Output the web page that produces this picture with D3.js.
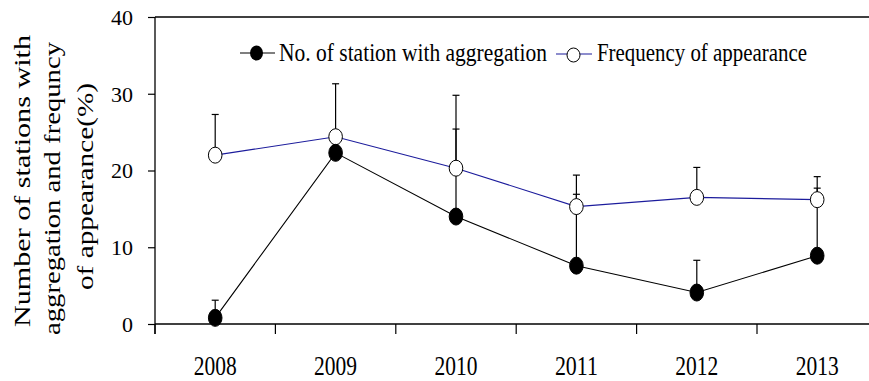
<!DOCTYPE html>
<html>
<head>
<meta charset="utf-8">
<script src="https://cdn.jsdelivr.net/npm/d3@7"></script>
<style>
  html, body { margin: 0; padding: 0; background: #fff; }
  svg { display: block; }
</style>
</head>
<body>
<svg id="chart" width="869" height="381"></svg>
<script>
// ---- data ----
const years = ["2008", "2009", "2010", "2011", "2012", "2013"];
const stations = [0.8, 22.3, 14.0, 7.6, 4.1, 8.9];
const stationsErrTop = [3.1, null, 25.4, 16.9, 8.3, 17.7];
const frequency = [22.0, 24.4, 20.3, 15.3, 16.5, 16.2];
const frequencyErrTop = [27.3, 31.3, 29.8, 19.4, 20.4, 19.2];
const yTicks = [0, 10, 20, 30, 40];
const legendLabels = ["No. of station with aggregation", "Frequency of appearance"];
const yTitle = ["Number of stations with", "aggregation and frequncy", "of appearance(%)"];

// ---- layout ----
const FONT = "'Liberation Serif', Tinos, 'Times New Roman', 'DejaVu Serif', serif";
const svg = d3.select("#chart");
const plotLeft = 155, plotTop = 17, plotBottom = 324, band = 120.4;
const x = d3.scaleBand().domain(years).range([plotLeft, plotLeft + band * years.length]).paddingInner(0).paddingOuter(0);
const y = d3.scaleLinear().domain([0, 40]).range([plotBottom, plotTop]);
const cx = d => x(d) + x.bandwidth() / 2;
const blue = "#1c1c9c";

// frame: top line and bottom axis line
svg.append("line").attr("x1", plotLeft).attr("x2", 869).attr("y1", y(40)).attr("y2", y(40))
  .attr("stroke", "#000").attr("stroke-width", 1.3);
svg.append("line").attr("x1", plotLeft).attr("x2", 869).attr("y1", y(0)).attr("y2", y(0))
  .attr("stroke", "#000").attr("stroke-width", 1.3);

// y axis
const yAxis = d3.axisLeft(y).tickValues(yTicks).tickSize(7).tickPadding(15).tickFormat(d3.format("d"));
const gy = svg.append("g").attr("transform", `translate(${plotLeft},0)`).call(yAxis);
gy.attr("font-family", null).attr("font-size", null);
gy.select(".domain").remove();
gy.append("line").attr("x1", 0).attr("x2", 0).attr("y1", y(40)).attr("y2", y(0) + 10)
  .attr("stroke", "#000").attr("stroke-width", 1.3);
gy.selectAll(".tick line").attr("stroke", "#000").attr("stroke-width", 1.2);
gy.selectAll(".tick text").style("font-family", FONT).style("font-size", "22px").attr("fill", "#000")
  .attr("dy", "0.34em");

// x axis: labels at centers, ticks at band boundaries
const gx = svg.append("g").attr("transform", `translate(0,${plotBottom})`);
const bounds = years.map(d => x(d)).concat([x.range()[1]]);
gx.selectAll("line.tk").data(bounds).join("line").attr("class", "tk")
  .attr("x1", d => d).attr("x2", d => d).attr("y1", 0).attr("y2", 10)
  .attr("stroke", "#000").attr("stroke-width", 1.2);
gx.selectAll("text").data(years).join("text")
  .attr("x", d => cx(d)).attr("y", 51).attr("text-anchor", "middle")
  .style("font-family", FONT).style("font-size", "27px")
  .attr("textLength", 43).attr("lengthAdjust", "spacingAndGlyphs")
  .text(d => d);

// error bars
function errorBars(vals, tops) {
  const data = years.map((d, i) => ({ year: d, v: vals[i], t: tops[i] })).filter(d => d.t != null);
  const g = svg.append("g");
  g.selectAll("line.v").data(data).join("line").attr("class", "v")
    .attr("x1", d => cx(d.year)).attr("x2", d => cx(d.year))
    .attr("y1", d => y(d.v)).attr("y2", d => y(d.t)).attr("stroke", "#000").attr("stroke-width", 1.2);
  g.selectAll("line.c").data(data).join("line").attr("class", "c")
    .attr("x1", d => cx(d.year) - 3.5).attr("x2", d => cx(d.year) + 3.5)
    .attr("y1", d => y(d.t)).attr("y2", d => y(d.t)).attr("stroke", "#000").attr("stroke-width", 1.2);
}
errorBars(stations, stationsErrTop);
errorBars(frequency, frequencyErrTop);

// lines
const line = d3.line().x((d, i) => cx(years[i])).y(d => y(d));
svg.append("path").datum(stations).attr("d", line).attr("fill", "none").attr("stroke", "#000").attr("stroke-width", 1.1);
svg.append("path").datum(frequency).attr("d", line).attr("fill", "none").attr("stroke", blue).attr("stroke-width", 1.1);

// markers
svg.append("g").selectAll("ellipse").data(frequency).join("ellipse")
  .attr("cx", (d, i) => cx(years[i])).attr("cy", d => y(d)).attr("rx", 6.8).attr("ry", 8)
  .attr("fill", "#fff").attr("stroke", "#000").attr("stroke-width", 1);
svg.append("g").selectAll("ellipse").data(stations).join("ellipse")
  .attr("cx", (d, i) => cx(years[i])).attr("cy", d => y(d)).attr("rx", 6.8).attr("ry", 8.5)
  .attr("fill", "#000").attr("stroke", "#000").attr("stroke-width", 1);

// legend
const lg = svg.append("g");
lg.append("line").attr("x1", 240).attr("x2", 275).attr("y1", 53).attr("y2", 53).attr("stroke", "#000").attr("stroke-width", 1.2);
lg.append("ellipse").attr("cx", 256.5).attr("cy", 53).attr("rx", 6.5).attr("ry", 7.5).attr("fill", "#000");
lg.append("text").attr("x", 279).attr("y", 61).style("font-family", FONT).style("font-size", "25px")
  .attr("textLength", 268).attr("lengthAdjust", "spacingAndGlyphs").text(legendLabels[0]);
lg.append("line").attr("x1", 556).attr("x2", 592).attr("y1", 54).attr("y2", 54).attr("stroke", blue).attr("stroke-width", 1.2);
lg.append("ellipse").attr("cx", 573.5).attr("cy", 55).attr("rx", 6.5).attr("ry", 7).attr("fill", "#fff").attr("stroke", "#000").attr("stroke-width", 1);
lg.append("text").attr("x", 597).attr("y", 61).style("font-family", FONT).style("font-size", "25px")
  .attr("textLength", 210).attr("lengthAdjust", "spacingAndGlyphs").text(legendLabels[1]);

// y title
const titleBase = [30, 60, 93];
const titleCenter = [181, 188.5, 186.5];
const titleLen = [292, 293, 207];
yTitle.forEach((t, i) => {
  svg.append("text").attr("transform", `translate(${titleBase[i]},${titleCenter[i]}) rotate(-90)`)
    .attr("text-anchor", "middle").style("font-family", FONT).style("font-size", "23px")
    .attr("textLength", titleLen[i]).attr("lengthAdjust", "spacingAndGlyphs").text(t);
});
</script>
</body>
</html>
